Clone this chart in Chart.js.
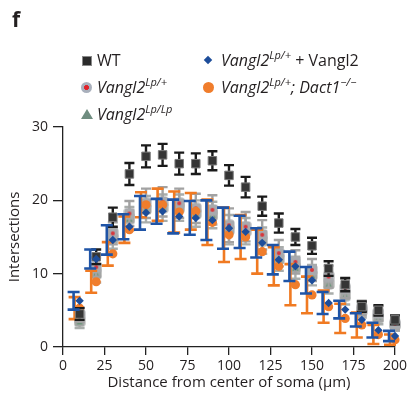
<!DOCTYPE html>
<html>
<head>
<meta charset="utf-8">
<script src="https://cdn.jsdelivr.net/npm/chart.js@4.4.1/dist/chart.umd.min.js"></script>
<style>
  html, body { margin: 0; padding: 0; background: #fff; }
  #wrap { position: relative; width: 411px; height: 393px; font-family: "Open Sans", "Noto Sans", sans-serif; color: #231f20; }
  #c { position: absolute; left: 0; top: 0; }
  .panel { position: absolute; left: 12px; top: 9px; font-size: 21px; font-weight: 700; line-height: 1; }
  .lg { position: absolute; font-size: 16px; line-height: 20px; white-space: nowrap; }
  .lg i { font-style: italic; }
  .lg sup { font-size: 11px; line-height: 0; vertical-align: 0; position: relative; top: -7px; }
  .mk { position: absolute; }
</style>
</head>
<body>
<div id="wrap">
  <canvas id="c" width="411" height="393"></canvas>
  <div class="panel">f</div>

  <div class="mk" style="left:82px;top:56px;width:8px;height:8px;background:#2b2b2b;border:1px solid #8a8a8a;"></div>
  <div class="lg" style="left:97px;top:50px;">WT</div>

  <div class="mk" style="left:81px;top:82px;width:11px;height:11px;border-radius:50%;background:radial-gradient(circle, #e0242a 0 2.2px, #a9b0bc 2.8px);"></div>
  <div class="lg" style="left:97px;top:77px;"><i>Vangl2<sup>Lp/+</sup></i></div>

  <div class="mk" style="left:81px;top:109px;width:0;height:0;border-left:6px solid transparent;border-right:6px solid transparent;border-bottom:10px solid #6f8d80;"></div>
  <div class="lg" style="left:97px;top:104px;"><i>Vangl2<sup>Lp/Lp</sup></i></div>

  <div class="mk" style="left:205px;top:57px;width:6px;height:6px;background:#1d4d9a;transform:rotate(45deg);"></div>
  <div class="lg" style="left:221px;top:50px;"><i>Vangl2<sup>Lp/+</sup></i> + Vangl2</div>

  <div class="mk" style="left:203px;top:82px;width:11px;height:11px;border-radius:50%;background:#f07d2c;"></div>
  <div class="lg" style="left:221px;top:77px;"><i>Vangl2<sup>Lp/+</sup>; Dact1<sup>−/−</sup></i></div>
</div>
<script>
// ---------- data ----------
const distances = [10, 20, 30, 40, 50, 60, 70, 80, 90, 100, 110, 120, 130, 140, 150, 160, 170, 180, 190, 200];

const wtMean   = [4.5, 12.3, 17.7, 23.6, 26.0, 26.2, 25.0, 25.0, 25.4, 23.4, 21.8, 19.2, 16.9, 15.0, 13.8, 10.7, 8.5, 5.5, 5.0, 3.7];
const wtErr    = [0.8, 1.0, 1.3, 1.5, 1.5, 1.5, 1.5, 1.4, 1.3, 1.4, 1.4, 1.3, 1.3, 1.1, 1.1, 1.0, 0.9, 0.7, 0.7, 0.6];

const lpHetMean = [4.4, 10.9, 15.5, 18.2, 19.6, 19.8, 19.6, 18.9, 18.7, 16.6, 16.4, 15.3, 12.8, 11.6, 10.5, 9.6, 8.0, 5.3, 4.6, 3.2];
const lpHetErr  = [1.0, 1.3, 1.5, 1.7, 2.0, 2.0, 2.0, 2.0, 2.0, 2.3, 2.0, 2.0, 1.8, 1.6, 1.5, 1.5, 1.3, 1.0, 1.0, 0.9];

const lpHomMean = [3.5, 10.0, 14.8, 17.5, 18.8, 19.0, 19.0, 18.2, 18.0, 16.0, 15.8, 14.5, 12.0, 10.8, 9.8, 8.6, 7.0, 5.0, 4.0, 3.0];
const lpHomErr  = [0.9, 1.2, 1.4, 1.6, 1.8, 1.8, 1.8, 1.8, 1.8, 2.0, 1.8, 1.8, 1.6, 1.5, 1.4, 1.3, 1.2, 1.0, 0.9, 0.8];

const rescueMean = [6.3, 12.0, 14.6, 16.4, 18.3, 18.5, 17.8, 17.6, 17.3, 16.2, 15.7, 14.2, 11.9, 11.0, 9.1, 6.0, 5.1, 3.7, 2.3, 1.5];
const rescueErr  = [1.2, 1.3, 2.0, 1.7, 2.3, 1.7, 2.3, 2.3, 2.7, 2.8, 2.2, 2.0, 2.0, 2.0, 1.8, 1.5, 1.2, 0.9, 1.0, 0.7];

const dactMean = [5.3, 8.9, 12.7, 16.0, 19.4, 19.4, 18.4, 18.5, 17.0, 15.3, 15.0, 13.0, 11.0, 8.5, 7.1, 5.5, 3.9, 3.0, 1.7, 1.0];
const dactErr  = [1.5, 1.5, 1.6, 1.8, 1.7, 2.2, 2.8, 2.5, 3.1, 3.7, 3.0, 3.0, 2.6, 2.8, 2.5, 2.2, 2.0, 1.7, 1.3, 0.7];

const xTickValues = [0, 25, 50, 75, 100, 125, 150, 175, 200];
const yTickValues = [0, 10, 20, 30];
const xTitle = 'Distance from center of soma (µm)';
const yTitle = 'Intersections';

// ---------- marker images ----------
function makeMarker(size, draw) {
  const c = document.createElement('canvas');
  c.width = size; c.height = size;
  draw(c.getContext('2d'), size);
  return c;
}
function roundRect(ctx, x, y, w, h, r) {
  ctx.beginPath();
  ctx.moveTo(x + r, y); ctx.lineTo(x + w - r, y); ctx.quadraticCurveTo(x + w, y, x + w, y + r);
  ctx.lineTo(x + w, y + h - r); ctx.quadraticCurveTo(x + w, y + h, x + w - r, y + h);
  ctx.lineTo(x + r, y + h); ctx.quadraticCurveTo(x, y + h, x, y + h - r);
  ctx.lineTo(x, y + r); ctx.quadraticCurveTo(x, y, x + r, y);
  ctx.closePath();
}
const hetMarker = makeMarker(12, (ctx, s) => {
  ctx.fillStyle = '#a8aaae'; roundRect(ctx, 0.5, 0.5, s - 1, s - 1, 3); ctx.fill();
  ctx.fillStyle = '#d9343a'; ctx.beginPath(); ctx.arc(s / 2, s / 2, 2, 0, Math.PI * 2); ctx.fill();
});
const homMarker = makeMarker(12, (ctx, s) => {
  ctx.fillStyle = '#a3a6a4'; roundRect(ctx, 0.5, 0.5, s - 1, s - 1, 3); ctx.fill();
  ctx.fillStyle = '#5e9470'; ctx.beginPath();
  ctx.moveTo(s / 2, 3); ctx.lineTo(s - 3, s - 3); ctx.lineTo(3, s - 3); ctx.closePath(); ctx.fill();
});

function pts(mean) { return distances.map((d, i) => ({ x: d, y: mean[i] })); }

// ---------- error bar plugin ----------
const errorBars = {
  id: 'errorBars',
  beforeDatasetDraw(chart, args) {
    const ds = chart.data.datasets[args.index];
    if (!ds.err) return;
    const ctx = chart.ctx, ys = chart.scales.y;
    ctx.save();
    ctx.strokeStyle = ds.errColor;
    ctx.lineWidth = ds.errWidth;
    ctx.lineCap = 'butt';
    args.meta.data.forEach((el, i) => {
      const v = ds.data[i].y, e = ds.err[i];
      const px = el.x + ds.errShift;
      const t = ys.getPixelForValue(v + e), b = ys.getPixelForValue(v - e);
      const h = ds.capHalf;
      ctx.beginPath();
      ctx.moveTo(px, t); ctx.lineTo(px, b);
      ctx.moveTo(px - h, t); ctx.lineTo(px + h, t);
      ctx.moveTo(px - h, b); ctx.lineTo(px + h, b);
      ctx.stroke();
    });
    ctx.restore();
  }
};

const fontFam = '"Open Sans", "Noto Sans", sans-serif';

new Chart(document.getElementById('c'), {
  type: 'scatter',
  data: {
    datasets: [
      { label: 'Vangl2 Lp/+ + Vangl2', data: pts(rescueMean), err: rescueErr,
        pointStyle: 'rectRot', pointRadius: 4.2, backgroundColor: '#1d4d9a', borderColor: '#1d4d9a', borderWidth: 0,
        errColor: '#1f54a6', errWidth: 2.6, capHalf: 6, errShift: -6, clip: false },
      { label: 'WT', data: pts(wtMean), err: wtErr,
        pointStyle: 'rect', pointRadius: 6, backgroundColor: '#353535', borderColor: '#7a7a7a', borderWidth: 1,
        errColor: '#1a1a1a', errWidth: 2.4, capHalf: 5, errShift: 0, clip: false },
      { label: 'Vangl2 Lp/+; Dact1 -/-', data: pts(dactMean), err: dactErr,
        pointStyle: 'circle', pointRadius: 4.6, backgroundColor: '#f07d2c', borderColor: '#f07d2c', borderWidth: 0,
        errColor: '#f07a22', errWidth: 2.6, capHalf: 6, errShift: -5, clip: false },
      { label: 'Vangl2 Lp/+', data: pts(lpHetMean), err: lpHetErr,
        pointStyle: hetMarker, pointRadius: 6,
        errColor: '#a2a2a2', errWidth: 2.4, capHalf: 5, errShift: 0, clip: false },
      { label: 'Vangl2 Lp/Lp', data: pts(lpHomMean), err: lpHomErr,
        pointStyle: homMarker, pointRadius: 6,
        errColor: '#a9adab', errWidth: 2.4, capHalf: 5, errShift: 0, clip: false }
    ]
  },
  options: {
    responsive: false,
    animation: false,
    events: [],
    layout: { padding: { top: 127, right: 16, left: 0, bottom: 0 } },
    plugins: { legend: { display: false }, tooltip: { enabled: false } },
    scales: {
      x: {
        type: 'linear', min: 0, max: 200,
        afterBuildTicks(s) { s.ticks = xTickValues.map(v => ({ value: v })); },
        afterFit(s) { s.height = 46; },
        grid: { drawOnChartArea: false, drawTicks: true, tickLength: 8, color: '#222', lineWidth: 1.3 },
        border: { display: true, color: '#222', width: 1.3 },
        ticks: { font: { family: fontFam, size: 14 }, color: '#231f20', padding: 3, maxRotation: 0 },
        title: { display: true, text: xTitle, font: { family: fontFam, size: 15 }, color: '#231f20', padding: { top: 0, bottom: 1 } }
      },
      y: {
        type: 'linear', min: 0, max: 30,
        afterBuildTicks(s) { s.ticks = yTickValues.map(v => ({ value: v })); },
        afterFit(s) { s.width = 63; },
        grid: { drawOnChartArea: false, drawTicks: true, tickLength: 10, color: '#222', lineWidth: 1.3 },
        border: { display: true, color: '#222', width: 1.3 },
        ticks: { font: { family: fontFam, size: 14 }, color: '#231f20', padding: 5 },
        title: { display: true, text: yTitle, font: { family: fontFam, size: 15 }, color: '#231f20', padding: { top: 6, bottom: 0 } }
      }
    }
  },
  plugins: [errorBars]
});
</script>
</body>
</html>
